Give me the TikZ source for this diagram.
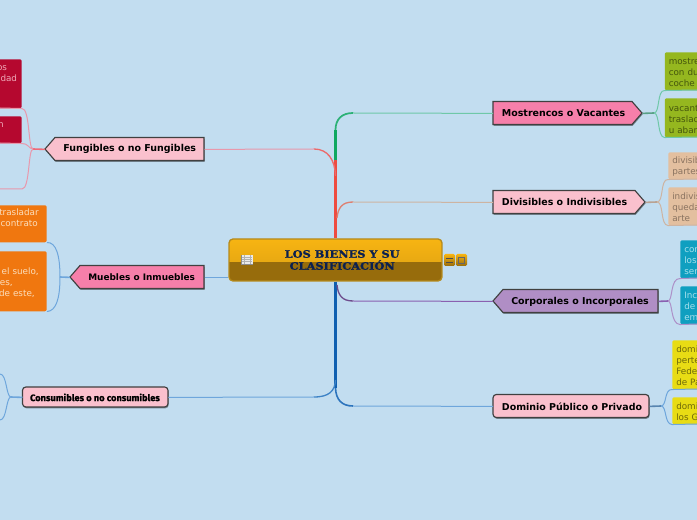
\documentclass[tikz,border=0pt]{standalone}
\usepackage{fontspec}
\setmainfont{DejaVu Sans}
\newfontfamily\titlefont[BoldFeatures={FakeBold=1.4,FakeStretch=1.12}]{DejaVu Serif}
\newfontfamily\heavyfont[FakeBold=0.8]{Fira Sans}
\usetikzlibrary{shadows}
\definecolor{bgblue}{HTML}{C2DDF0}
\definecolor{pinkA}{HTML}{FAC0CD}
\definecolor{pinkB}{HTML}{F67FAA}
\definecolor{purpleA}{HTML}{B08EC5}
\definecolor{redleaf}{HTML}{B5082F}
\definecolor{redtxt}{HTML}{EFA9B8}
\definecolor{orangeleaf}{HTML}{F0770F}
\definecolor{orangetxt}{HTML}{FBDDBB}
\definecolor{greenleaf}{HTML}{95B71F}
\definecolor{greentxt}{HTML}{45560C}
\definecolor{tanleaf}{HTML}{E3BF9F}
\definecolor{tantxt}{HTML}{8A7360}
\definecolor{blueleaf}{HTML}{0F9FC0}
\definecolor{bluetxt}{HTML}{A5E0EC}
\definecolor{yellowleaf}{HTML}{E8DC14}
\definecolor{yellowtxt}{HTML}{6F6A0A}
\definecolor{goldtop}{HTML}{F7B412}
\definecolor{goldmid}{HTML}{DCA012}
\definecolor{goldlow}{HTML}{976C0C}
\definecolor{goldedge}{HTML}{B58A1C}
\definecolor{navy}{HTML}{0A2050}
\definecolor{lnteal}{HTML}{6FC8A8}
\definecolor{lnpink}{HTML}{E898AC}
\definecolor{lntan}{HTML}{CDB4A2}
\definecolor{lnpurple}{HTML}{8A60B0}
\definecolor{lnblue}{HTML}{6EA6DC}
\definecolor{trgreen}{HTML}{0FA860}
\definecolor{trred}{HTML}{EE4B40}
\definecolor{trblue}{HTML}{0F5FB0}
\tikzset{
  topicedge/.style={draw=black!75, line width=0.85pt, line join=miter, drop shadow={shadow xshift=0.5pt, shadow yshift=-1pt, opacity=0.4, fill=black}},
  topictext/.style={inner sep=0pt, minimum height=17pt, yshift=-0.3pt, font=\fontsize{7.1}{9}\selectfont\bfseries, text=black},
  leafbox/.style={inner ysep=0pt, rounded corners=1.5pt, font=\fontsize{6.6}{8.25}\selectfont, execute at begin node={\rule{0pt}{6.6pt}}},
  leafL/.style={leafbox, inner xsep=3pt, anchor=north west, align=left, text width=60pt},
  leafR/.style={leafbox, inner xsep=0pt, anchor=north east, align=right},
  thinln/.style={line width=0.75pt},
  stub/.style={line width=1.2pt},
  trunk/.style={line width=2.2pt},
}
% name, x1, x2, yc, fill, text offset, text
\newcommand{\topicpointR}[7]{%
  \path[topicedge, fill=#5] (#2,#4-11.5) -- (#3-10,#4-11.5) -- (#3,#4) -- (#3-10,#4+11.5) -- (#2,#4+11.5) -- cycle;
  \node[topictext, anchor=west, minimum width={(#3-#2)*0.75pt}] (#1) at (#2,#4) {\makebox[{\dimexpr(#3pt-#2pt)*3/4\relax}][l]{\hspace{#6pt}#7}};}
\newcommand{\topicpointL}[7]{%
  \path[topicedge, fill=#5] (#3,#4-11.5) -- (#2+10,#4-11.5) -- (#2,#4) -- (#2+10,#4+11.5) -- (#3,#4+11.5) -- cycle;
  \node[topictext, anchor=west, minimum width={(#3-#2)*0.75pt}] (#1) at (#2,#4) {\makebox[{\dimexpr(#3pt-#2pt)*3/4\relax}][l]{\hspace{#6pt}#7}};}
\begin{document}
\begin{tikzpicture}[x=0.75pt,y=-0.75pt]
\useasboundingbox (0,0) rectangle (697,520);
\clip (0,0) rectangle (697,520);
\fill[bgblue] (0,0) rectangle (697,520);

% central topic
\node[draw=goldedge, line width=1pt, rounded corners=3pt, minimum width=159.75pt, minimum height=31.5pt, inner sep=0pt,
  align=center, text=navy, font=\titlefont\bfseries\fontsize{7.6}{9}\selectfont,
  path picture={
    \shade[sharp corners, top color=goldtop, bottom color=goldmid] (path picture bounding box.north west) rectangle ([yshift=-1.5pt]path picture bounding box.east);
    \fill[sharp corners, goldlow] ([yshift=-1.5pt]path picture bounding box.west) rectangle (path picture bounding box.south east);
  }] (central) at (335.5,260) {\hspace*{10pt}LOS BIENES Y SU\\\hspace*{10pt}CLASIFICACIÓN};

% book icon
\fill[black!45] (241,255) rectangle (253,265.5);
\fill[white!92!black] (241.5,255) rectangle (246.7,264);
\fill[white!92!black] (247.3,255) rectangle (252.5,264);
\foreach \yy in {257,259,261}{\draw[black!30, line width=0.4pt] (242,\yy) -- (252,\yy);}
\draw[black!30, line width=0.4pt] (244,255) -- (244,264) (250,255) -- (250,264);

% small buttons
\shade[top color=goldtop, bottom color=goldlow, rounded corners=1pt] (444,254) rectangle (455,266);
\shade[top color=goldtop, bottom color=goldlow, rounded corners=1pt] (456,254) rectangle (467,266);
\draw[black!70, line width=0.6pt] (446,258) -- (453,258) (446,262) -- (453,262);
\draw[black!60, line width=0.6pt] (458.5,257) rectangle (464.5,263);

% main topics
\topicpointR{most}{493}{642}{113}{pinkB}{6.5}{Mostrencos o Vacantes}
\topicpointR{divi}{493}{645}{202}{pinkA}{6.5}{Divisibles o Indivisibles}
\topicpointL{corp}{493}{658}{301}{purpleA}{13.5}{Corporales o Incorporales}
\path[topicedge, fill=pinkA, rounded corners=2.5pt] (493,394.5) rectangle (649,417.5);
\node[topictext, anchor=west, minimum width=117pt] (domi) at (493,406) {\makebox[117pt][l]{\hspace{6.5pt}Dominio Público o Privado}};
\topicpointL{fung}{45}{204}{149}{pinkA}{13.5}{Fungibles o no Fungibles}
\topicpointL{mueb}{70}{204}{277}{pinkB}{13.5}{\fontsize{6.7}{9}\selectfont Muebles o Inmuebles}
\path[topicedge, fill=pinkA, rounded corners=2.5pt] (22.5,387) rectangle (168,407);
\node[topictext, anchor=west, minimum width=109pt] (cons) at (22.5,397) {\makebox[109pt][l]{\hspace{5.5pt}\heavyfont\fontsize{6.95}{9}\selectfont Consumibles o no consumibles}};

% left leaves
\node[leafR, fill=redleaf, text=redtxt, text width=40pt, minimum height=36.75pt] (fungA) at (22,59) {os\kern11pt\\idad\kern3.5pt\\\strut\\\strut};
\node[leafR, fill=redleaf, text=redtxt, text width=40pt, minimum height=20.25pt] (fungB) at (22,116) {n\kern13.5pt\\\strut};
\coordinate (fungC) at (22,189);
\node[leafR, fill=orangeleaf, text=orangetxt, text width=60pt, minimum height=27.75pt] (muebA) at (47,205) {trasladar\kern6pt\\contrato\kern6.75pt\\\strut};
\node[leafR, fill=orangeleaf, text=orangetxt, text width=60pt, minimum height=45pt] (muebB) at (47,251) {el suelo,\kern6pt\\les,\kern25.5pt\\de este,\kern9pt};
\coordinate (consA) at (0,374);
\coordinate (consB) at (0,420);

% right leaves
\node[leafL, fill=greenleaf, text=greentxt, minimum height=28.5pt] (mostA) at (664.5,52) {mostre\\con du\\coche};
\node[leafL, fill=greenleaf, text=greentxt, minimum height=29.25pt] (mostB) at (664.5,98) {vacant\\traslac\\u abar};
\node[leafL, fill=tanleaf, text=tantxt, minimum height=20.25pt] (diviA) at (668,152) {divisib\\partes};
\node[leafL, fill=tanleaf, text=tantxt, minimum height=28.5pt] (diviB) at (668,187) {indivis\\queda\\arte};
\node[leafL, fill=blueleaf, text=bluetxt, minimum height=28.5pt] (corpA) at (680,240) {cor\\los\\sen};
\node[leafL, fill=blueleaf, text=bluetxt, minimum height=28.5pt] (corpB) at (680,286) {Inc\\de\\em};
\node[leafL, fill=yellowleaf, text=yellowtxt, minimum height=36.75pt] (domiA) at (672,340) {domi\\perte\\Fede\\de Pa};
\node[leafL, fill=yellowleaf, text=yellowtxt, minimum height=20.25pt] (domiB) at (672,397) {domi\\los G};

% joints of the leaves
\coordinate (jMost) at (654,113);
\coordinate (jDivi) at (657,202);
\coordinate (jCorp) at (668,301);
\coordinate (jDomi) at (661,406);
\coordinate (jFung) at (33,149);
\coordinate (jMueb) at (60,277);
\coordinate (jCons) at (11,397);

% connectors topic -> leaf
\draw[stub, lnteal!80!black] (most.east) -- (jMost);
\draw[thinln, lnteal] (jMost) .. controls (660,113) and (657,90) .. (mostA.south west) -- (697,90);
\draw[thinln, lnteal] (jMost) .. controls (660,113) and (657,137) .. (mostB.south west) -- (697,137);
\draw[stub, lntan!90!black] (divi.east) -- (jDivi);
\draw[thinln, lntan] (jDivi) .. controls (664,202) and (660,179) .. (diviA.south west) -- (697,179);
\draw[thinln, lntan] (jDivi) .. controls (664,202) and (660,225) .. (diviB.south west) -- (697,225);
\draw[stub, lnpurple] (corp.east) -- (jCorp);
\draw[thinln, lnpurple!70!white] (jCorp) .. controls (673,301) and (670,278) .. (corpA.south west) -- (697,278);
\draw[thinln, lnpurple!70!white] (jCorp) .. controls (673,301) and (670,324) .. (corpB.south west) -- (697,324);
\draw[stub, lnblue!80!black] (domi.east) -- (jDomi);
\draw[thinln, lnblue] (jDomi) .. controls (667,406) and (664,389) .. (domiA.south west) -- (697,389);
\draw[thinln, lnblue] (jDomi) .. controls (667,406) and (664,424) .. (domiB.south west) -- (697,424);
\draw[stub, lnpink!70!red] (fung.west) -- (jFung);
\draw[thinln, lnpink] (jFung) .. controls (28,149) and (30,108) .. (fungA.south east) -- (0,108);
\draw[thinln, lnpink] (jFung) .. controls (29,149) and (28,143) .. (fungB.south east) -- (0,143);
\draw[thinln, lnpink] (jFung) .. controls (28,149) and (30,189) .. (fungC) -- (0,189);
\draw[stub, lnblue] (mueb.west) -- (jMueb);
\draw[thinln, lnblue] (jMueb) .. controls (60,255) and (56,242) .. (muebA.south east);
\draw[thinln, lnblue] (jMueb) .. controls (60,299) and (56,311) .. (muebB.south east);
\draw[stub, lnblue] (cons.west) -- (jCons);
\draw[thinln, lnblue] (jCons) .. controls (6,397) and (7,374) .. (consA);
\draw[thinln, lnblue] (jCons) .. controls (6,397) and (7,420) .. (consB);

% connectors central -> topics
\coordinate (tFung) at (335.5,176);
\coordinate (tMost) at (335.5,160);
\coordinate (tDivi) at (337,218);
\coordinate (tCorp) at (337,285);
\coordinate (tDomi) at (335.5,388);
\coordinate (tCons) at (335.5,380);
\draw[trunk, trred] (central.north) -- (tFung) -- (tMost);
\draw[trunk, trgreen] (tMost) -- (335.5,130);
\draw[line width=1.3pt, trgreen!70!lnteal] (335.5,130) .. controls (335.5,119) and (342,113) .. (353,113);
\draw[thinln, lnteal] (353,113) -- (most.west);
\draw[line width=1pt, trred!60!lnpink] (tFung) .. controls (335,160) and (328,149) .. (314,149);
\draw[thinln, lnpink] (314,149) -- (fung.east);
\draw[line width=1pt, trred!50!lntan] (tDivi) .. controls (338,208) and (342,202) .. (353,202);
\draw[thinln, lntan] (353,202) -- (divi.west);
\draw[trunk, trblue] (central.south) -- (tDomi);
\draw[line width=1.2pt, trblue!70!lnblue] (tDomi) .. controls (336,400) and (342,406) .. (353,406);
\draw[thinln, lnblue] (353,406) -- (domi.west);
\draw[line width=1pt, lnpurple!80!black] (tCorp) .. controls (338,295) and (342,301) .. (353,301);
\draw[thinln, lnpurple] (353,301) -- (corp.west);
\draw[line width=1pt, trblue!50!lnblue] (tCons) .. controls (335,391) and (329,397) .. (314,397);
\draw[thinln, lnblue] (314,397) -- (cons.east);
\draw[thinln, lnblue] (mueb.east) -- (central.west |- mueb.east);
\end{tikzpicture}
\end{document}
